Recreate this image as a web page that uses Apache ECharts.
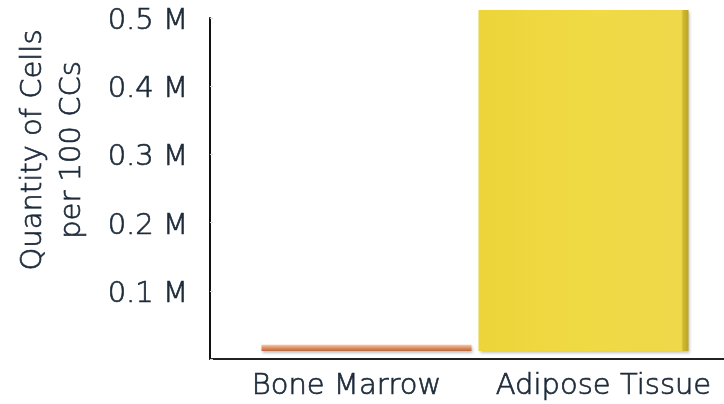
<!DOCTYPE html>
<html>
<head>
<meta charset="utf-8">
<script src="https://cdn.jsdelivr.net/npm/echarts@6/dist/echarts.min.js"></script>
<style>
  html, body { margin: 0; padding: 0; background: #fff; }
  #chart { width: 724px; height: 404px; }
</style>
</head>
<body>
<div id="chart"></div>
<script>
// Cell yield per 100 cc of tissue, in millions of cells
const categories = ['Bone Marrow', 'Adipose Tissue'];
const cellsMillions = [0.009, 0.5];
const yTickValues = [0.1, 0.2, 0.3, 0.4, 0.5];
const yTitle = 'Quantity of Cells\nper 100 CCs';

const FONT = 'DejaVu Sans';
const WEIGHT = 200;
const TEXT = '#1c2a3a';
// a hairline outline gives the light face a little more body
const textBody = { textBorderColor: TEXT, textBorderWidth: 0.7 };

const barFills = [
  new echarts.graphic.LinearGradient(0, 0, 0, 1, [
    { offset: 0, color: '#f6c7a8' },
    { offset: 0.45, color: '#e39466' },
    { offset: 1, color: '#b8673f' }
  ]),
  new echarts.graphic.LinearGradient(0, 0, 1, 0, [
    { offset: 0, color: '#ecd43a' },
    { offset: 0.5, color: '#f0da44' },
    { offset: 0.965, color: '#efd84a' },
    { offset: 0.975, color: '#cdb82c' },
    { offset: 1, color: '#b9a526' }
  ])
];

const chart = echarts.init(document.getElementById('chart'), null, { renderer: 'canvas' });

chart.setOption({
  animation: false,
  backgroundColor: '#ffffff',
  grid: [
    // axes frame
    { left: 210, right: 0, top: 18, bottom: 45 },
    // bars sit slightly above the floor line
    { left: 258, right: 32, top: 10, bottom: 53 }
  ],
  xAxis: [
    {
      type: 'category',
      gridIndex: 0,
      data: categories,
      axisLine: { lineStyle: { color: '#222', width: 2 } },
      axisTick: { show: false },
      axisLabel: Object.assign({
        interval: 0,
        hideOverlap: false,
        fontFamily: FONT, fontWeight: WEIGHT, fontSize: 29, color: TEXT, margin: 13,
        padding: [0, 0, 0, 16]
      }, textBody)
    },
    {
      type: 'category',
      gridIndex: 1,
      data: categories,
      show: false
    }
  ],
  yAxis: [
    {
      type: 'value',
      gridIndex: 0,
      min: 0, max: 0.5, interval: 0.1,
      axisLine: { show: true, lineStyle: { color: '#111', width: 2 } },
      axisTick: { show: true, inside: true, length: 3, lineStyle: { color: '#d8d8d8' } },
      splitLine: { show: false },
      axisLabel: {
        margin: 22,
        formatter: v => yTickValues.some(t => Math.abs(t - v) < 1e-9) ? '{t|' + v.toFixed(1) + ' M}' : '',
        rich: {
          t: Object.assign({
            fontFamily: FONT, fontWeight: WEIGHT, fontSize: 29, color: TEXT,
            padding: [7, 0, 0, 0]
          }, textBody)
        }
      }
    },
    {
      type: 'value',
      gridIndex: 1,
      min: 0, max: 0.5,
      show: false
    }
  ],
  series: [
    {
      type: 'bar',
      xAxisIndex: 1,
      yAxisIndex: 1,
      barWidth: 210,
      data: cellsMillions.map((v, i) => ({
        value: v,
        itemStyle: {
          color: barFills[i],
          shadowColor: 'rgba(0,0,0,0.25)',
          shadowBlur: 3,
          shadowOffsetX: 1,
          shadowOffsetY: 2
        }
      }))
    }
  ],
  graphic: [
    {
      type: 'text',
      x: 53,
      y: 150,
      rotation: Math.PI / 2,
      style: {
        text: yTitle,
        fontFamily: FONT,
        fontWeight: WEIGHT,
        fontSize: 29,
        lineHeight: 39,
        fill: TEXT,
        align: 'center',
        verticalAlign: 'middle',
        stroke: TEXT,
        lineWidth: 0.7
      }
    }
  ]
});
</script>
</body>
</html>
